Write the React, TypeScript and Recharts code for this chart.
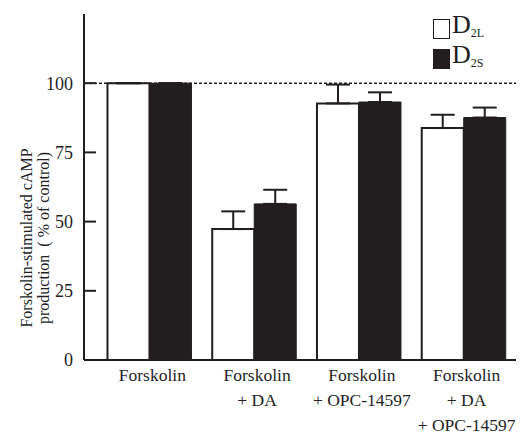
import React from "react";
import {
  BarChart,
  Bar,
  XAxis,
  YAxis,
  ErrorBar,
  ReferenceLine,
  Legend,
} from "recharts";

const INK = "#221e1f";
const FONT = "Liberation Serif";

const categories = [
  "Forskolin",
  "Forskolin\n+ DA",
  "Forskolin\n+ OPC-14597",
  "Forskolin\n+ DA\n+ OPC-14597",
];
const d2l = [100, 47.3, 92.7, 83.8];
const d2lErr = [0, 6.4, 6.8, 4.8];
const d2s = [100, 56.4, 93.2, 87.6];
const d2sErr = [0, 5.1, 3.5, 3.6];
const yTicks = [0, 25, 50, 75, 100];

const data = categories.map((name, i) => ({
  name,
  d2l: d2l[i],
  d2lErr: [0, d2lErr[i]],
  d2s: d2s[i],
  d2sErr: [0, d2sErr[i]],
}));

const XTick = (props: any) => {
  const { x, y, payload } = props;
  const lines = String(payload.value).split("\n");
  return (
    <g>
      {lines.map((l, i) => (
        <text
          key={i}
          x={x + 3}
          y={y + 21 + i * 25}
          textAnchor="middle"
          fontSize={17.5}
          fontFamily={FONT}
          fill={INK}
        >
          {l}
        </text>
      ))}
    </g>
  );
};

const YTick = (props: any) => {
  const { x, y, payload } = props;
  return (
    <g>
      <line x1={x} y1={y} x2={x + 12} y2={y} stroke={INK} strokeWidth={2} />
      <text
        x={x - 11}
        y={y}
        dy="0.35em"
        textAnchor="end"
        fontSize={18}
        fontFamily={FONT}
        fill={INK}
      >
        {payload.value}
      </text>
    </g>
  );
};

const YLabel = () => {
  const cy = 238;
  const rows = ["Forskolin-stimulated cAMP", "production\u00a0\u00a0( % of control)"];
  const xs = [26, 43];
  return (
    <g>
      {rows.map((r, i) => (
        <text
          key={i}
          x={xs[i]}
          y={cy}
          dy="0.35em"
          transform={`rotate(-90, ${xs[i]}, ${cy})`}
          textAnchor="middle"
          fontSize={16}
          fontFamily={FONT}
          fill={INK}
        >
          {r}
        </text>
      ))}
    </g>
  );
};

const LegendBox = () => {
  const row = (fill: string, sub: string) => (
    <div style={{ display: "flex", alignItems: "flex-end", height: 30 }}>
      <div
        style={{
          width: 15,
          height: 18,
          background: fill,
          border: `1.5px solid ${INK}`,
          marginRight: 2,
          marginBottom: 3,
        }}
      />
      <span style={{ fontFamily: FONT, fontSize: 26, lineHeight: "26px", color: INK }}>
        D
        <span style={{ fontSize: 12, position: "relative", top: 4 }}>{sub}</span>
      </span>
    </div>
  );
  return (
    <div>
      {row("#fff", "2L")}
      {row(INK, "2S")}
    </div>
  );
};

export default function App() {
  return (
    <div style={{ position: "absolute", left: 0, top: 0 }}>
      <BarChart
        width={522}
        height={434}
        data={data}
        margin={{ top: 14, right: 6, left: 0, bottom: 0 }}
        barCategoryGap="10%"
        barGap={0}
      >
        <XAxis
          dataKey="name"
          height={74}
          padding={{ left: 13, right: 0 }}
          tickLine={false}
          tickSize={0}
          tickMargin={0}
          interval={0}
          tick={<XTick />}
          axisLine={{ stroke: INK, strokeWidth: 2 }}
        />
        <XAxis
          xAxisId="top"
          orientation="top"
          dataKey="name"
          height={0}
          tick={false}
          tickLine={false}
          padding={{ left: 13, right: 0 }}
          axisLine={{ stroke: INK, strokeWidth: 2 }}
        />
        <YAxis
          width={84}
          domain={[0, 125]}
          ticks={yTicks}
          tickLine={false}
          tickSize={0}
          tickMargin={0}
          tick={<YTick />}
          axisLine={{ stroke: INK, strokeWidth: 2 }}
          label={<YLabel />}
        />
        <YAxis
          yAxisId="r"
          orientation="right"
          width={0}
          tick={false}
          tickLine={false}
          axisLine={{ stroke: INK, strokeWidth: 2 }}
        />
        <ReferenceLine y={100} stroke={INK} strokeWidth={1.5} strokeDasharray="3 2" />
        <Bar dataKey="d2l" fill="#fff" stroke={INK} strokeWidth={2} isAnimationActive={false}>
          <ErrorBar dataKey="d2lErr" width={12} stroke={INK} strokeWidth={2} direction="y" />
        </Bar>
        <Bar dataKey="d2s" fill={INK} stroke={INK} strokeWidth={1} isAnimationActive={false}>
          <ErrorBar dataKey="d2sErr" width={12} stroke={INK} strokeWidth={2} direction="y" />
        </Bar>
        <Legend
          layout="vertical"
          align="center"
          verticalAlign="middle"
          content={<LegendBox />}
          wrapperStyle={{ left: 433, top: 12, width: 80, height: 62 }}
        />
      </BarChart>
    </div>
  );
}
